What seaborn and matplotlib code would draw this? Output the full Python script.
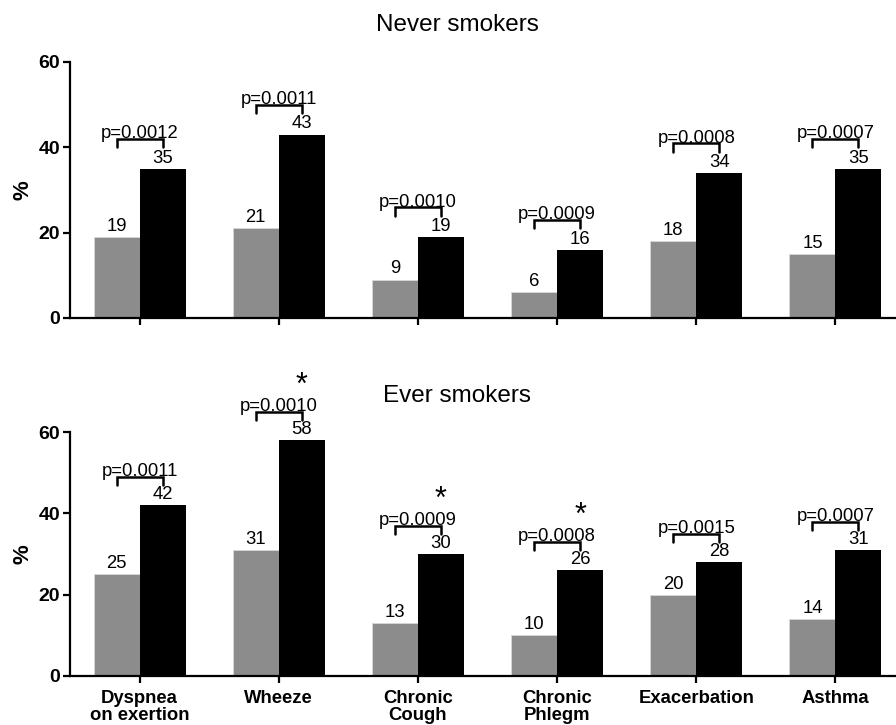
import matplotlib
matplotlib.use("Agg")
import matplotlib.pyplot as plt
import seaborn as sns
import pandas as pd

# Symptom prevalence (%) by group, for never and ever smokers
symptoms = ["Dyspnea\non exertion", "Wheeze", "Chronic\nCough",
            "Chronic\nPhlegm", "Exacerbation", "Asthma"]
groups = ["Group 1", "Group 2"]

never_g1 = [19, 21, 9, 6, 18, 15]
never_g2 = [35, 43, 19, 16, 34, 35]
never_p = ["p=0.0012", "p=0.0011", "p=0.0010", "p=0.0009", "p=0.0008", "p=0.0007"]
never_star = [False, False, False, False, False, False]

ever_g1 = [25, 31, 13, 10, 20, 14]
ever_g2 = [42, 58, 30, 26, 28, 31]
ever_p = ["p=0.0011", "p=0.0010", "p=0.0009", "p=0.0008", "p=0.0015", "p=0.0007"]
ever_star = [False, True, True, True, False, False]

y_ticks = [0, 20, 40, 60]

sns.set_theme(style="ticks")
plt.rcParams["font.family"] = ["Liberation Sans", "DejaVu Sans"]
for key in ["text.color", "axes.labelcolor", "xtick.color", "ytick.color",
            "axes.edgecolor"]:
    plt.rcParams[key] = "black"

GRAY = "#8c8c8c"
BLACK = "#000000"

fig = plt.figure(figsize=(8.96, 7.25), dpi=100)
ax_top = fig.add_axes([70 / 896, 0.5614, 835 / 896, 0.3531])
ax_bot = fig.add_axes([70 / 896, 0.0676, 835 / 896, 0.3364])


def draw_panel(ax, g1, g2, pvals, stars, show_labels):
    df = pd.DataFrame({
        "symptom": symptoms * 2,
        "pct": g1 + g2,
        "group": [groups[0]] * len(symptoms) + [groups[1]] * len(symptoms),
    })
    sns.barplot(data=df, x="symptom", y="pct", hue="group", order=symptoms,
                hue_order=groups, palette=[GRAY, BLACK], saturation=1,
                width=0.66, linewidth=0, legend=False, ax=ax)
    # thin light rim on the grey bars
    for b in ax.containers[0]:
        b.set_edgecolor("#d9d9d9")
        b.set_linewidth(0.6)
    ax.set_xlim(-0.5, len(symptoms) - 0.5)
    ax.set_ylim(0, 60)
    ax.set_yticks(y_ticks)
    ax.set_xlabel("")
    ax.set_ylabel("%", fontsize=16, fontweight="bold", labelpad=4)
    sns.despine(ax=ax)
    for s in ["left", "bottom"]:
        ax.spines[s].set_linewidth(1.6)
    ax.tick_params(axis="both", width=1.6, length=5, pad=2)
    ax.tick_params(axis="y", labelsize=14)
    ax.tick_params(axis="x", labelsize=13.3)
    for lab in ax.get_yticklabels():
        lab.set_fontweight("bold")
    if show_labels:
        ax.tick_params(axis="x", pad=5)
        for lab in ax.get_xticklabels():
            lab.set_fontweight("bold")
            lab.set_linespacing(1.0)
    else:
        ax.set_xticklabels([])

    bars1, bars2 = ax.containers[0], ax.containers[1]
    for i in range(len(symptoms)):
        b1, b2 = bars1[i], bars2[i]
        x1 = b1.get_x() + b1.get_width() / 2
        x2 = b2.get_x() + b2.get_width() / 2
        ax.text(x1, g1[i] + 0.5, f"{g1[i]}", ha="center", va="bottom", fontsize=13.3)
        ax.text(x2, g2[i] + 0.5, f"{g2[i]}", ha="center", va="bottom", fontsize=13.3)
        yb = g2[i] + 7
        ax.plot([x1, x1, x2, x2], [yb - 2, yb, yb, yb - 2], color="black",
                lw=1.8, clip_on=False, solid_joinstyle="miter")
        ax.text((x1 + x2) / 2, yb + 0.1, pvals[i], ha="center", va="baseline",
                fontsize=13.3, clip_on=False)
        if stars[i]:
            ax.text(x2, yb + 6.4, "*", ha="center", va="center", fontsize=22,
                    clip_on=False)


draw_panel(ax_top, never_g1, never_g2, never_p, never_star, False)
draw_panel(ax_bot, ever_g1, ever_g2, ever_p, ever_star, True)

fig.text(457 / 896, 1 - 25 / 725, "Never smokers", ha="center", va="center", fontsize=17.5)
fig.text(457 / 896, 1 - 396 / 725, "Ever smokers", ha="center", va="center", fontsize=17.5)

fig.savefig("out.png", dpi=100)
